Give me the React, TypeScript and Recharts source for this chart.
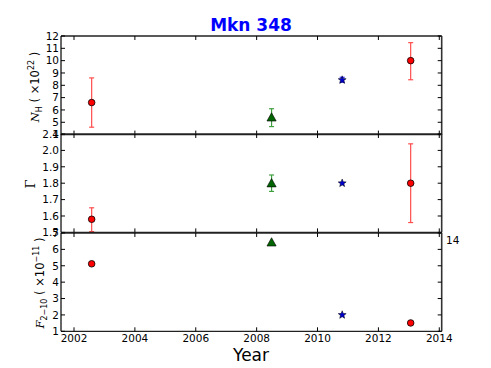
import React from 'react';
import { ScatterChart, Scatter, XAxis, YAxis, ErrorBar } from 'recharts';

// Observation epochs per instrument
const redYears = [2002.58, 2013.06];
const greenYears = [2008.49];
const blueYears = [2010.81];

// Panel 1: N_H (x10^22)
const redNH = [6.6, 10.0];
const redNHLo = [4.6, 8.45];
const redNHHi = [8.6, 11.46];
const greenNH = [5.4];
const greenNHLo = [4.65];
const greenNHHi = [6.1];
const blueNH = [8.43];
const blueNHLo = [8.25];
const blueNHHi = [8.65];

// Panel 2: Gamma
const redG = [1.58, 1.8];
const redGLo = [1.505, 1.56];
const redGHi = [1.65, 2.04];
const greenG = [1.8];
const greenGLo = [1.75];
const greenGHi = [1.85];
const blueG = [1.8];

// Panel 3: F 2-10 (x10^-11)
const redF = [5.12, 1.51];
const greenF = [6.43];
const blueF = [2.0];

const xTicks = [2002, 2004, 2006, 2008, 2010, 2012, 2014];
const xDomain = [2001.573, 2014.079];
const nhTicks = [4, 5, 6, 7, 8, 9, 10, 11, 12];
const gTicks = [1.5, 1.6, 1.7, 1.8, 1.9, 2.0, 2.1];
const fTicks = [1, 2, 3, 4, 5, 6, 7];

const FONT = '"DejaVu Sans", sans-serif';
const M = 2;
const TL = 4;
const TICKFS = 10.5;

const mk = (xs: number[], ys: number[], lo?: number[], hi?: number[]) =>
  xs.map((x, i) => ({
    year: x,
    v: ys[i],
    err: lo && hi ? [ys[i] - lo[i], hi[i] - ys[i]] : [0, 0],
  }));

const LeftTick = (fmt: (v: number) => string) => (p: any) => (
  <g>
    <line x1={p.x + M} x2={p.x + M + TL} y1={p.y} y2={p.y} stroke="#000" strokeWidth={1} />
    <text x={p.x} y={p.y} dy="0.36em" textAnchor="end" fontSize={TICKFS} fontFamily={FONT} fill="#000">
      {fmt(p.payload.value)}
    </text>
  </g>
);
const RightTick = (p: any) => (
  <line x1={p.x - M} x2={p.x - M - TL} y1={p.y} y2={p.y} stroke="#000" strokeWidth={1} />
);
const BottomTick = (showLabel: boolean) => (p: any) => (
  <g>
    <line x1={p.x} x2={p.x} y1={p.y - M} y2={p.y - M - TL} stroke="#000" strokeWidth={1} />
    {showLabel && (
      <text x={p.x} y={p.y} dy={8.5} textAnchor="middle" fontSize={TICKFS} fontFamily={FONT} fill="#000">
        {p.payload.value}
      </text>
    )}
  </g>
);
const TopTick = (p: any) => (
  <line x1={p.x} x2={p.x} y1={p.y + M} y2={p.y + M + TL} stroke="#000" strokeWidth={1} />
);

const RedDot = (p: any) => (
  <circle cx={p.cx} cy={p.cy} r={3.3} fill="#ff0000" stroke="#000" strokeWidth={0.8} />
);
const GreenTri = (p: any) => {
  const s = 4.6;
  return (
    <polygon
      points={`${p.cx},${p.cy - s} ${p.cx - s},${p.cy + s * 0.8} ${p.cx + s},${p.cy + s * 0.8}`}
      fill="#006400"
      stroke="#000"
      strokeWidth={0.6}
    />
  );
};
const BlueStar = (p: any) => {
  const R = 4.2;
  const r = 1.8;
  const pts: string[] = [];
  for (let i = 0; i < 10; i++) {
    const a = -Math.PI / 2 + (i * Math.PI) / 5;
    const rr = i % 2 === 0 ? R : r;
    pts.push(`${p.cx + rr * Math.cos(a)},${p.cy + rr * Math.sin(a)}`);
  }
  return <polygon points={pts.join(' ')} fill="#0000cc" stroke="#000" strokeWidth={0.5} />;
};

type PanelProps = {
  top: number;
  height: number;
  domain: number[];
  ticks: number[];
  fmt: (v: number) => string;
  red: any[];
  green: any[];
  blue: any[];
  redErr: boolean;
  greenErr: boolean;
  blueErr: boolean;
  showX: boolean;
};

const PAD = 12;

const Panel = (pp: PanelProps) => {
  const bottomPad = pp.showX ? 30 : PAD;
  return (
    <div style={{ position: 'absolute', left: 0, top: pp.top - PAD }}>
      <ScatterChart
        width={491}
        height={pp.height + PAD + bottomPad}
        margin={{ top: PAD - 1, bottom: bottomPad - 1, left: 0, right: 0 }}
      >
        <XAxis
          xAxisId="b"
          type="number"
          dataKey="year"
          domain={xDomain}
          ticks={xTicks}
          interval={0}
          allowDataOverflow
          height={1}
          orientation="bottom"
          axisLine={{ stroke: '#222', strokeWidth: 1.3 }}
          tickLine={false}
          tickSize={0}
          tickMargin={M}
          tick={BottomTick(pp.showX)}
        />
        <XAxis
          xAxisId="t"
          type="number"
          dataKey="year"
          domain={xDomain}
          ticks={xTicks}
          interval={0}
          allowDataOverflow
          height={1}
          orientation="top"
          axisLine={{ stroke: '#222', strokeWidth: 1.3 }}
          tickLine={false}
          tickSize={0}
          tickMargin={M}
          tick={TopTick}
        />
        <YAxis
          yAxisId="l"
          type="number"
          dataKey="v"
          domain={pp.domain}
          ticks={pp.ticks}
          interval={0}
          allowDataOverflow
          width={61}
          orientation="left"
          axisLine={{ stroke: '#000', strokeWidth: 1.2 }}
          tickLine={false}
          tickSize={0}
          tickMargin={M}
          tick={LeftTick(pp.fmt)}
        />
        <YAxis
          yAxisId="r"
          type="number"
          dataKey="v"
          domain={pp.domain}
          ticks={pp.ticks}
          interval={0}
          allowDataOverflow
          width={49.3}
          orientation="right"
          axisLine={{ stroke: '#333', strokeWidth: 1.6 }}
          tickLine={false}
          tickSize={0}
          tickMargin={M}
          tick={RightTick}
        />
        <Scatter data={pp.red} xAxisId="b" yAxisId="l" dataKey="v" shape={RedDot} isAnimationActive={false}>
          {pp.redErr && (
            <ErrorBar dataKey="err" direction="y" width={2.5} stroke="#ff4d4d" strokeWidth={1.2} />
          )}
        </Scatter>
        <Scatter data={pp.green} xAxisId="b" yAxisId="l" dataKey="v" shape={GreenTri} isAnimationActive={false}>
          {pp.greenErr && (
            <ErrorBar dataKey="err" direction="y" width={2.5} stroke="#40a040" strokeWidth={1.2} />
          )}
        </Scatter>
        <Scatter data={pp.blue} xAxisId="b" yAxisId="l" dataKey="v" shape={BlueStar} isAnimationActive={false}>
          {pp.blueErr && (
            <ErrorBar dataKey="err" direction="y" width={2.5} stroke="#3030ff" strokeWidth={1.2} />
          )}
        </Scatter>
      </ScatterChart>
    </div>
  );
};

const P1 = [35.7, 134.3];
const P2 = [134.3, 232.7];
const P3 = [232.7, 331];

export default function App() {
  return (
    <div style={{ position: 'absolute', left: 0, top: 0, width: 491, height: 368, background: '#fff' }}>
      <Panel
        top={P1[0]}
        height={P1[1] - P1[0]}
        domain={[4, 12]}
        ticks={nhTicks}
        fmt={(v) => String(v)}
        red={mk(redYears, redNH, redNHLo, redNHHi)}
        green={mk(greenYears, greenNH, greenNHLo, greenNHHi)}
        blue={mk(blueYears, blueNH, blueNHLo, blueNHHi)}
        redErr
        greenErr
        blueErr
        showX={false}
      />
      <Panel
        top={P2[0]}
        height={P2[1] - P2[0]}
        domain={[1.5, 2.1]}
        ticks={gTicks}
        fmt={(v) => v.toFixed(1)}
        red={mk(redYears, redG, redGLo, redGHi)}
        green={mk(greenYears, greenG, greenGLo, greenGHi)}
        blue={mk(blueYears, blueG)}
        redErr
        greenErr
        blueErr={false}
        showX={false}
      />
      <Panel
        top={P3[0]}
        height={P3[1] - P3[0]}
        domain={[1, 7]}
        ticks={fTicks}
        fmt={(v) => String(v)}
        red={mk(redYears, redF)}
        green={mk(greenYears, greenF)}
        blue={mk(blueYears, blueF)}
        redErr={false}
        greenErr={false}
        blueErr={false}
        showX
      />
      <svg
        width={491}
        height={368}
        style={{ position: 'absolute', left: 0, top: 0, pointerEvents: 'none' }}
      >
        <text x={251} y={31} textAnchor="middle" fontSize={17} fontWeight="bold" fontFamily={FONT} fill="#0000ff">
          Mkn 348
        </text>
        <text x={251} y={361} textAnchor="middle" fontSize={17} fontFamily={FONT} fill="#000">
          Year
        </text>
        <text x={446} y={244} fontSize={10.5} fontFamily={FONT} fill="#000">
          14
        </text>
        <text transform="translate(39,87) rotate(-90)" textAnchor="middle" fontSize={11.5} fontFamily={FONT} fill="#000">
          <tspan fontFamily='"DejaVu Serif", serif' fontStyle="italic">N</tspan>
          <tspan fontSize={8} dy={3}>H</tspan>
          <tspan dy={-3}> ( ×10</tspan>
          <tspan fontSize={8} dy={-5}>22</tspan>
          <tspan dy={5}> )</tspan>
        </text>
        <text transform="translate(35,184) rotate(-90)" textAnchor="middle" fontSize={13} fontFamily='"DejaVu Serif", serif' fill="#000">
          Γ
        </text>
        <text transform="translate(44,283) rotate(-90)" textAnchor="middle" fontSize={11.5} fontFamily={FONT} fill="#000">
          <tspan fontFamily='"DejaVu Serif", serif' fontStyle="italic">F</tspan>
          <tspan fontSize={8} dy={3}>2−10</tspan>
          <tspan dy={-3}> ( ×10</tspan>
          <tspan fontSize={8} dy={-5}>−11</tspan>
          <tspan dy={5}> )</tspan>
        </text>
      </svg>
    </div>
  );
}
